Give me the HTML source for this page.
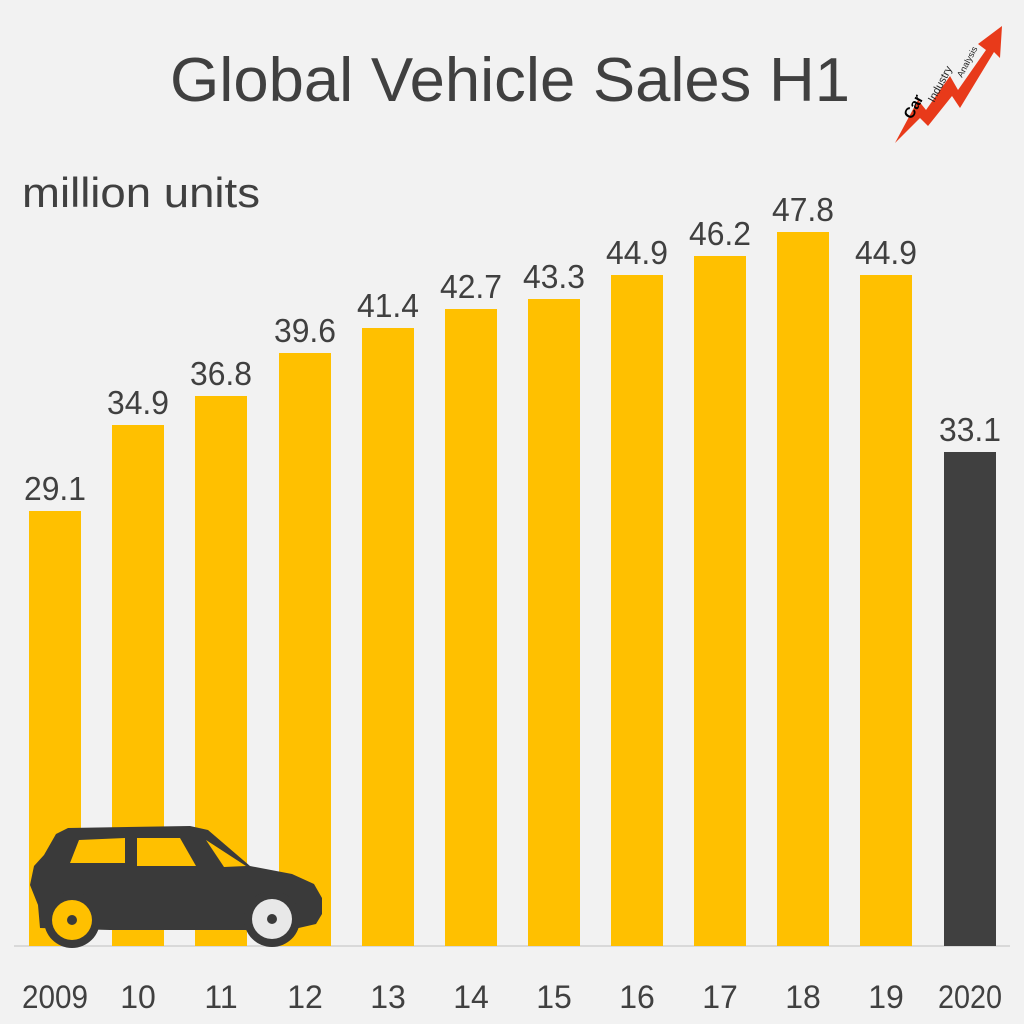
<!DOCTYPE html>
<html><head><style>
html,body{margin:0;padding:0;background:#f2f2f2;}
svg{display:block;}
text{font-family:"Liberation Sans",sans-serif;fill:#404040;}
</style></head><body>
<svg width="1024" height="1024" viewBox="0 0 1024 1024">
<rect width="1024" height="1024" fill="#f2f2f2"/>
<text x="510" y="101" font-size="62" text-anchor="middle" textLength="680" lengthAdjust="spacingAndGlyphs">Global Vehicle Sales H1</text>
<text x="22" y="207" font-size="42" textLength="238" lengthAdjust="spacingAndGlyphs">million units</text>
<!-- logo -->
<polygon points="895,143 918,100 926,110 950,76 958,90 986,50 978,44 1002,26 1000,58 994,52 960,108 952,96 928,126 920,118" fill="#e83a1a"/>
<text x="0" y="0" font-size="15" font-weight="bold" transform="translate(912,120) rotate(-62)" style="fill:#000">Car</text>
<text x="0" y="0" font-size="11" transform="translate(934,103) rotate(-62)" style="fill:#222">Industry</text>
<text x="0" y="0" font-size="9" transform="translate(962,78) rotate(-62)" style="fill:#222">Analysis</text>
<line x1="14" y1="946" x2="1010" y2="946" stroke="#d9d9d9" stroke-width="2"/>
<g fill="#ffc000">
<rect x="29" y="511" width="52" height="435"/>
<rect x="112" y="425" width="52" height="521"/>
<rect x="195" y="396" width="52" height="550"/>
<rect x="279" y="353" width="52" height="593"/>
<rect x="362" y="328" width="52" height="618"/>
<rect x="445" y="309" width="52" height="637"/>
<rect x="528" y="299" width="52" height="647"/>
<rect x="611" y="275" width="52" height="671"/>
<rect x="694" y="256" width="52" height="690"/>
<rect x="777" y="232" width="52" height="714"/>
<rect x="860" y="275" width="52" height="671"/>
</g>
<rect x="944" y="452" width="52" height="494" fill="#404040"/>
<g font-size="33" text-anchor="middle">
<text x="55" y="500" textLength="62" lengthAdjust="spacingAndGlyphs">29.1</text>
<text x="138" y="414" textLength="62" lengthAdjust="spacingAndGlyphs">34.9</text>
<text x="221" y="385" textLength="62" lengthAdjust="spacingAndGlyphs">36.8</text>
<text x="305" y="342" textLength="62" lengthAdjust="spacingAndGlyphs">39.6</text>
<text x="388" y="317" textLength="62" lengthAdjust="spacingAndGlyphs">41.4</text>
<text x="471" y="298" textLength="62" lengthAdjust="spacingAndGlyphs">42.7</text>
<text x="554" y="288" textLength="62" lengthAdjust="spacingAndGlyphs">43.3</text>
<text x="637" y="264" textLength="62" lengthAdjust="spacingAndGlyphs">44.9</text>
<text x="720" y="245" textLength="62" lengthAdjust="spacingAndGlyphs">46.2</text>
<text x="803" y="221" textLength="62" lengthAdjust="spacingAndGlyphs">47.8</text>
<text x="886" y="264" textLength="62" lengthAdjust="spacingAndGlyphs">44.9</text>
<text x="970" y="441" textLength="62" lengthAdjust="spacingAndGlyphs">33.1</text>
</g>
<g font-size="32" text-anchor="middle">
<text x="55" y="1008" textLength="66" lengthAdjust="spacingAndGlyphs">2009</text>
<text x="138" y="1008">10</text>
<text x="221" y="1008">11</text>
<text x="305" y="1008">12</text>
<text x="388" y="1008">13</text>
<text x="471" y="1008">14</text>
<text x="554" y="1008">15</text>
<text x="637" y="1008">16</text>
<text x="720" y="1008">17</text>
<text x="803" y="1008">18</text>
<text x="886" y="1008">19</text>
<text x="970" y="1008" textLength="64" lengthAdjust="spacingAndGlyphs">2020</text>
</g>
<!-- car -->
<path d="M38,905 L30,885 L34,866 L44,855 L56,834 L68,828 L190,826 L208,830 L250,866 L292,874 L314,884 L322,898 L322,914 L316,924 L290,930 L110,930 L40,928 Z" fill="#3a3a3a"/>
<path d="M70,863 L79,840 L125,838 L125,863 Z" fill="#ffc000"/>
<path d="M137,838 L180,838 L196,866 L137,866 Z" fill="#ffc000"/>
<path d="M206,840 L246,866 L224,867 Z" fill="#ffc000"/>
<circle cx="72" cy="920" r="28" fill="#3a3a3a"/>
<circle cx="72" cy="920" r="20" fill="#ffc000"/>
<circle cx="72" cy="920" r="5" fill="#3a3a3a"/>
<circle cx="272" cy="919" r="28" fill="#3a3a3a"/>
<circle cx="272" cy="919" r="20" fill="#e8e8e8"/>
<circle cx="272" cy="919" r="5" fill="#3a3a3a"/>
</svg>
</body></html>
